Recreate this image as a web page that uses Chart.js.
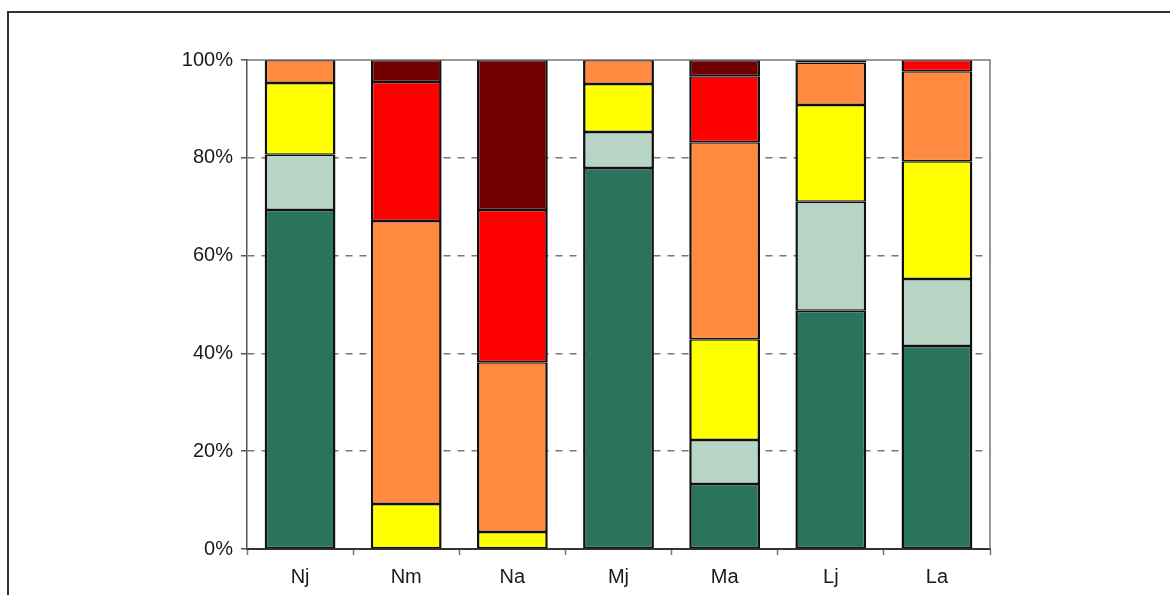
<!DOCTYPE html>
<html>
<head>
<meta charset="utf-8">
<script src="https://cdn.jsdelivr.net/npm/chart.js@4"></script>
<style>
  html, body { margin: 0; padding: 0; background: #fff; }
  #wrap { position: relative; width: 1170px; height: 595px; }
  canvas { display: block; }
</style>
</head>
<body>
<div id="wrap"><canvas id="c" width="1170" height="595"></canvas></div>
<script>
// Groups along the x axis
const categories = ['Nj', 'Nm', 'Na', 'Mj', 'Ma', 'Lj', 'La'];

// Share of each class per group (percent), stacked bottom to top
const classDarkGreen  = [69.3,  0.0,  0.0, 77.9, 13.3, 48.7, 41.5];
const classPaleGreen  = [11.3,  0.0,  0.0,  7.4,  9.0, 22.3, 13.7];
const classYellow     = [14.7,  9.2,  3.5,  9.8, 20.6, 19.8, 24.1];
const classOrange     = [ 4.7, 57.9, 34.7,  4.9, 40.3,  8.7, 18.4];
const classRed        = [ 0.0, 28.4, 31.1,  0.0, 13.5,  0.0,  2.3];
const classDarkRed    = [ 0.0,  4.5, 30.7,  0.0,  3.3,  0.5,  0.0];

// Value axis ticks
const yTicks = [0, 20, 40, 60, 80, 100];

const colors = ['#2A735C', '#B8D4C4', '#FFFF00', '#FF8A40', '#FF0000', '#730000'];
const seriesList = [classDarkGreen, classPaleGreen, classYellow, classOrange, classRed, classDarkRed];

const datasets = seriesList.map((d, i) => ({
  data: d,
  backgroundColor: colors[i],
  borderColor: '#111',
  borderWidth: { top: 1.5, bottom: 1.5, left: 2.5, right: 2.5 },
  borderSkipped: false,
  inflateAmount: 0,
  barPercentage: 0.667,
  categoryPercentage: 1.0
}));

// Outer frame and plot-area top/right borders
const framePlugin = {
  id: 'frame',
  afterDraw(chart) {
    const ctx = chart.ctx;
    const a = chart.chartArea;
    ctx.save();
    ctx.strokeStyle = '#777';
    ctx.lineWidth = 1.5;
    ctx.beginPath();
    ctx.moveTo(a.left, a.top);
    ctx.lineTo(a.right, a.top);
    ctx.lineTo(a.right, a.bottom);
    ctx.stroke();
    ctx.strokeStyle = '#333';
    ctx.lineWidth = 2;
    ctx.beginPath();
    ctx.moveTo(8, 595);
    ctx.lineTo(8, 12);
    ctx.lineTo(1170, 12);
    ctx.stroke();
    ctx.restore();
  }
};

const labelFont = { family: 'Liberation Sans, Arial, sans-serif', size: 20 };

new Chart(document.getElementById('c'), {
  type: 'bar',
  data: { labels: categories, datasets },
  options: {
    responsive: false,
    animation: false,
    layout: { padding: { top: 60, right: 180, bottom: 0, left: 0 } },
    plugins: { legend: { display: false }, tooltip: { enabled: false } },
    scales: {
      x: {
        stacked: true,
        afterFit(s) { s.height = 46; },
        grid: {
          offset: true,
          drawOnChartArea: false,
          drawTicks: true,
          tickLength: 6,
          tickColor: '#777',
          tickWidth: 1.5
        },
        border: { display: true, color: '#333', width: 2 },
        ticks: {
          color: '#1a1a1a',
          padding: 10,
          font: labelFont
        }
      },
      y: {
        stacked: true,
        min: 0,
        max: 100,
        afterFit(s) { s.width = 247; },
        afterBuildTicks(s) { s.ticks = yTicks.map(v => ({ value: v })); },
        grid: {
          color: c => (c.tick && (c.tick.value === 0 || c.tick.value === 100)) ? 'rgba(0,0,0,0)' : '#777',
          lineWidth: 1.5,
          drawTicks: true,
          tickLength: 6,
          tickColor: '#555',
          tickWidth: 1.5,
          tickBorderDash: []
        },
        border: { display: true, color: '#555', width: 1.5, dash: [7, 7] },
        ticks: {
          color: '#1a1a1a',
          padding: 8,
          callback: v => v + '%',
          font: labelFont
        }
      }
    }
  },
  plugins: [framePlugin]
});
</script>
</body>
</html>
